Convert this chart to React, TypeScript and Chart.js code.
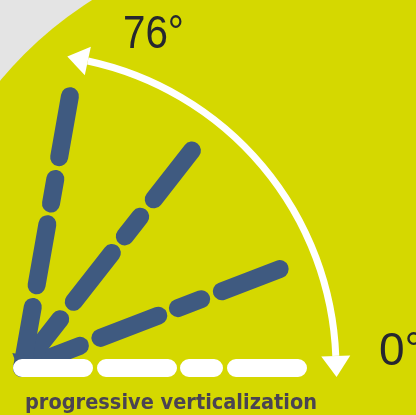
import React, { useEffect, useRef } from 'react';
import { Chart, registerables } from 'chart.js';

Chart.register(...registerables);

// Ray angles (degrees from the horizontal)
const blueRayAngles = [80, 52, 21];
const baseRayAngles = [0];
const rayLength = 276;
// dash pattern along every ray (dash, gap, dash, gap, ...)
const dashPattern = [62, 22, 62, 21, 25, 22, 62, 400];
// arc arrow extents (degrees) and its labels
const arcAngles = [2.2, 77.9];
const arcRadius = 314;
const angleLabels = ['76°', '0°'];
const caption = 'progressive verticalization';

const YELLOW = '#D5D800';
const GREY = '#E4E4E4';
const BLUE = '#3F5A80';
const WHITE = '#FFFFFF';
const DARK = '#26272F';
const CAPTION = '#4A4452';

const rad = (d: number) => (d * Math.PI) / 180;

function rayPoints(angle: number, arrow: boolean) {
  const a = rad(angle);
  const pts = [{ x: 0, y: 0 }];
  if (arrow) pts.push({ x: 6 * Math.cos(a), y: 6 * Math.sin(a) });
  pts.push({ x: rayLength * Math.cos(a), y: rayLength * Math.sin(a) });
  return pts;
}

const decorPlugin = {
  id: 'decor',
  beforeDraw(chart: any) {
    const { ctx, scales } = chart;
    const xs = scales.x;
    const ys = scales.y;
    ctx.save();
    ctx.fillStyle = GREY;
    ctx.fillRect(0, 0, chart.width, chart.height);
    const cx = xs.getPixelForValue(278);
    const cy = ys.getPixelForValue(38);
    const r = xs.getPixelForValue(390) - xs.getPixelForValue(0);
    ctx.fillStyle = YELLOW;
    ctx.beginPath();
    ctx.arc(cx, cy, r, 0, Math.PI * 2);
    ctx.fill();
    ctx.restore();
  },
  afterDatasetsDraw(chart: any) {
    const { ctx, scales, chartArea } = chart;
    const xs = scales.x;
    const ys = scales.y;
    const cx = xs.getPixelForValue(0);
    const cy = ys.getPixelForValue(0);
    const r = xs.getPixelForValue(arcRadius) - cx;
    const [a0, a1] = arcAngles.map(rad);
    ctx.save();
    ctx.strokeStyle = WHITE;
    ctx.lineWidth = 7;
    ctx.beginPath();
    ctx.arc(cx, cy, r, -a1, -a0, false);
    ctx.stroke();
    ctx.fillStyle = WHITE;
    const head = (phi: number, dir: number) => {
      const bx = cx + r * Math.cos(phi);
      const by = cy - r * Math.sin(phi);
      const tx = dir > 0 ? -Math.sin(phi) : Math.sin(phi);
      const ty = dir > 0 ? -Math.cos(phi) : Math.cos(phi);
      const nx = -ty;
      const ny = tx;
      ctx.beginPath();
      ctx.moveTo(bx + tx * 21, by + ty * 21);
      ctx.lineTo(bx + nx * 14.5, by + ny * 14.5);
      ctx.lineTo(bx - nx * 14.5, by - ny * 14.5);
      ctx.closePath();
      ctx.fill();
    };
    head(a0, -1);
    head(a1, 1);

    ctx.fillStyle = DARK;
    ctx.textBaseline = 'alphabetic';
    ctx.textAlign = 'left';
    ctx.font = '46px "Liberation Sans", Arial, sans-serif';
    ctx.fillText(angleLabels[0], chartArea.left + 123, chartArea.top + 48, 61);
    ctx.fillText(angleLabels[1], chartArea.left + 379, chartArea.top + 365);

    ctx.fillStyle = CAPTION;
    ctx.font = 'bold 22px "DejaVu Sans", sans-serif';
    ctx.fillText(caption, chartArea.left + 25, chartArea.top + 409, 292);
    ctx.restore();
  },
};

export default function App() {
  const ref = useRef<HTMLCanvasElement | null>(null);
  useEffect(() => {
    if (!ref.current) return;
    const datasets: any[] = [];
    baseRayAngles.forEach((ang) => {
      datasets.push({
        data: rayPoints(ang, false),
        showLine: true,
        borderColor: WHITE,
        borderWidth: 18,
        borderCapStyle: 'round',
        borderDash: dashPattern,
        pointRadius: 0,
        pointHoverRadius: 0,
        clip: false,
      });
    });
    blueRayAngles.forEach((ang) => {
      datasets.push({
        data: rayPoints(ang, true),
        showLine: true,
        borderColor: BLUE,
        borderWidth: 18,
        borderCapStyle: 'round',
        borderDash: dashPattern,
        pointStyle: 'triangle',
        pointRadius: [0, 14, 0],
        pointHoverRadius: [0, 14, 0],
        pointRotation: 270 - ang,
        pointBackgroundColor: BLUE,
        pointBorderColor: BLUE,
        pointBorderWidth: 0,
        clip: false,
      });
    });
    const chart = new Chart(ref.current, {
      type: 'scatter',
      data: { datasets },
      options: {
        animation: false,
        responsive: true,
        maintainAspectRatio: false,
        events: [],
        layout: { padding: 0 },
        scales: {
          x: { type: 'linear', min: -22, max: 394, display: false },
          y: { type: 'linear', min: -47, max: 368, display: false },
        },
        plugins: {
          legend: { display: false },
          tooltip: { enabled: false },
        },
      },
      plugins: [decorPlugin],
    } as any);
    return () => chart.destroy();
  }, []);
  return (
    <div style={{ position: 'absolute', left: 0, top: 0, width: 416, height: 415 }}>
      <canvas ref={ref} />
    </div>
  );
}
